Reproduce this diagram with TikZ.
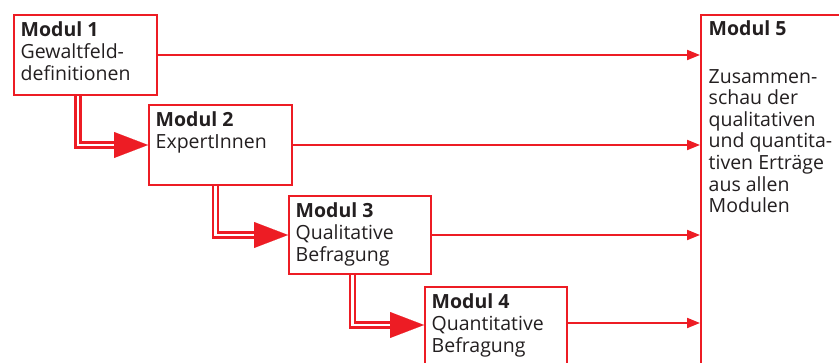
\documentclass[tikz,border=0pt]{standalone}
\usepackage{fontspec}
\setmainfont{Open Sans}
\usetikzlibrary{arrows.meta}
\definecolor{rred}{HTML}{ED1C24}
\definecolor{ink}{HTML}{231F20}
\tikzset{
 box/.style={draw=rred, line width=2pt, rectangle, minimum width=143pt, minimum height=80pt, anchor=north west, inner sep=0pt, fill=white},
 txt/.style={anchor=base west, inner sep=0pt, text=ink},
 thinarrow/.style={draw=rred, line width=2pt, -{Triangle[length=13pt,width=10pt]}},
 dbl/.style={draw=rred, line width=2.6pt, double=white, double distance=2.6pt},
 bigarrow/.style={draw=rred, fill=rred, line width=0.1pt, -{Triangle[length=34pt,width=26pt]}},
}
\newcommand{\boxtext}[1]{\parbox[t]{140pt}{\raggedright\fontsize{19.5}{22}\selectfont #1}}
\newcommand{\boxtextb}[1]{\parbox[t]{140pt}{\raggedright\fontsize{19.5}{21.6}\selectfont #1}}
\begin{document}
\begin{tikzpicture}[x=1pt,y=-1pt]
\useasboundingbox (0,0) rectangle (839,363);
\clip (0,0) rectangle (839,363);
\fill[white] (0,0) rectangle (839,363);
% boxes
\node[box] (b1) at (13,14) {};
\node[box] (b2) at (148,104) {};
\node[box, minimum width=142pt, minimum height=78pt] (b3) at (288,195) {};
\node[box, minimum width=142pt, minimum height=100pt] (b4) at (424,286) {};
\node[box, minimum width=160pt, minimum height=400pt] (b5) at (700,14) {};
% texts
\node[txt] (t1) at ([shift={(7.5pt,-23pt)}]b1.north west) {\boxtext{\textbf{Modul 1}\\Gewaltfeld-\\definitionen}};
\node[txt] (t2) at ([shift={(7.5pt,-23pt)}]b2.north west) {\boxtext{\textbf{Modul 2}\\ExpertInnen}};
\node[txt] (t3) at ([shift={(7.5pt,-23pt)}]b3.north west) {\boxtext{\textbf{Modul 3}\\Qualitative\\Befragung}};
\node[txt] (t4) at ([shift={(7.5pt,-23pt)}]b4.north west) {\boxtext{\textbf{Modul 4}\\Quantitative\\Befragung}};
\node[txt] (t5) at ([shift={(8.5pt,-22pt)}]b5.north west) {\boxtextb{\textbf{Modul 5}\\[25.5pt]Zusammen-\\schau der\\qualitativen\\und quantita-\\tiven Erträge\\aus allen\\Modulen}};
% thin arrows to Modul 5
\draw[thinarrow] (b1.east) -- (b1.east -| b5.west);
\draw[thinarrow] (b2.east) -- (b2.east -| b5.west);
\draw[thinarrow] (b3.east) -- (b3.east -| b5.west);
\coordinate (p4) at ([yshift=-37pt]b4.north east);
\draw[thinarrow] (p4) -- (p4 -| b5.west);
% double connectors
\coordinate (e2) at (b2.west);
\coordinate (s2) at ([xshift=-34pt]e2);
\draw[dbl] ([xshift=-7.5pt]b1.south) |- (s2);
\draw[bigarrow] (s2) -- (e2);
\coordinate (e3) at (b3.west);
\coordinate (s3) at ([xshift=-34pt]e3);
\draw[dbl] ([xshift=-5pt]b2.south) |- (s3);
\draw[bigarrow] (s3) -- (e3);
\coordinate (e4) at ([yshift=-39pt]b4.north west);
\coordinate (s4) at ([xshift=-34pt]e4);
\draw[dbl] ([xshift=-7.5pt]b3.south) |- (s4);
\draw[bigarrow] (s4) -- (e4);
\end{tikzpicture}
\end{document}
